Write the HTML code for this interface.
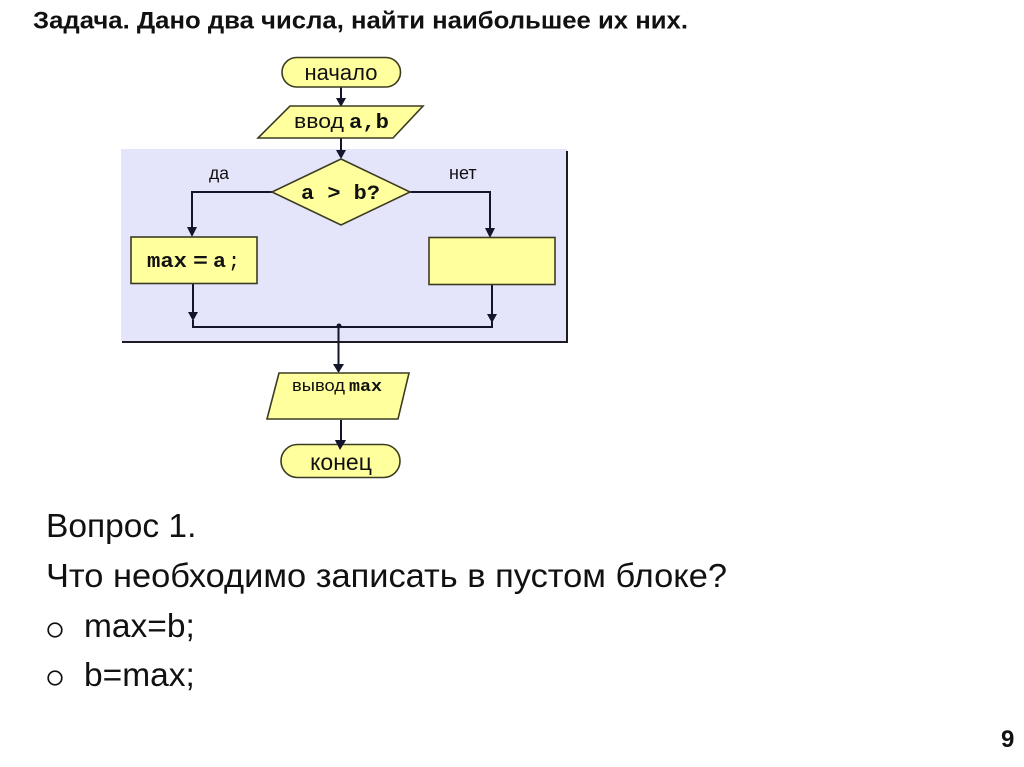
<!DOCTYPE html>
<html lang="ru"><head><meta charset="utf-8"><style>
html,body{margin:0;padding:0;background:#fff;width:1024px;height:767px;overflow:hidden}
svg{display:block}
text{font-family:"Liberation Sans",sans-serif;fill:#111}
.m{font-family:"Liberation Mono",monospace;font-weight:bold}
.s{fill:#ffff9e;stroke:#3c3c22;stroke-width:1.6}
.l{stroke:#14142a;stroke-width:2;fill:none}
.a{fill:#14142a}
</style></head><body>
<svg width="1024" height="767" viewBox="0 0 1024 767" xmlns="http://www.w3.org/2000/svg">
<rect x="121" y="149" width="446" height="192" fill="#e4e4fb"/>
<path d="M567 151V342H122" fill="none" stroke="#1c1c22" stroke-width="2"/>
<path class="l" d="M341 87V100M341 138V153M272 192H192V228M410 192H490V229M193 283V313M492 285V314M193 320V327H492V320M338.500 327V365M341 420V443"/>
<path class="a" d="M336 98H346L341 107ZM336 150H346L341 159ZM187 227H197L192 237ZM485 228H495L490 238ZM188 312H198L193 321ZM487 314H497L492 323ZM333 364H344L338.500 373ZM335 440H346L340 450Z"/>
<circle class="a" cx="339" cy="326" r="2.500"/>
<rect class="s" x="282" y="57.500" width="118.500" height="29.500" rx="14.700"/>
<polygon class="s" points="290,106 423,106 393,138 258,138"/>
<polygon class="s" points="341,159 410,192 341,225 272,192"/>
<rect class="s" x="131" y="237" width="126" height="46.500"/>
<rect class="s" x="429" y="237.500" width="126" height="47"/>
<polygon class="s" points="279,373 409,373 398,419 267,419"/>
<rect class="s" x="281" y="444.500" width="119" height="33" rx="16.500"/>
<path class="a" d="M335 440H346L340 450Z"/>
<text x="341" y="80" font-size="22" text-anchor="middle">начало</text>
<text x="294" y="128" font-size="20" textLength="50" lengthAdjust="spacingAndGlyphs">ввод</text>
<text class="m" x="349" y="128" font-size="20" textLength="40" lengthAdjust="spacingAndGlyphs">a,b</text>
<text x="209" y="179" font-size="17.500">да</text>
<text x="449" y="179" font-size="18">нет</text>
<text class="m" x="301" y="199" font-size="20" textLength="79" lengthAdjust="spacingAndGlyphs">a &gt; b?</text>
<text class="m" x="147" y="267" font-size="20" textLength="40" lengthAdjust="spacingAndGlyphs">max</text>
<text class="m" x="193" y="267" font-size="20" textLength="15" lengthAdjust="spacingAndGlyphs">=</text>
<text class="m" x="213" y="267" font-size="20" textLength="13" lengthAdjust="spacingAndGlyphs">a</text>
<text class="m" x="229" y="267" font-size="20" textLength="10" lengthAdjust="spacingAndGlyphs">;</text>
<text x="292" y="391" font-size="16.500" textLength="53" lengthAdjust="spacingAndGlyphs">вывод</text>
<text class="m" x="349" y="391" font-size="17" textLength="33" lengthAdjust="spacingAndGlyphs">max</text>
<text x="341" y="470" font-size="23" text-anchor="middle">конец</text>
<text x="33" y="28.500" font-size="24" font-weight="bold" textLength="655" lengthAdjust="spacingAndGlyphs">Задача. Дано два числа, найти наибольшее их них.</text>
<text x="46" y="537" font-size="33.500">Вопрос 1.</text>
<text x="46" y="587" font-size="33.500" textLength="681" lengthAdjust="spacingAndGlyphs">Что необходимо записать в пустом блоке?</text>
<circle cx="55" cy="630" r="6.800" fill="none" stroke="#111" stroke-width="1.700"/>
<text x="84" y="637" font-size="33.500">max=b;</text>
<circle cx="55" cy="678" r="6.800" fill="none" stroke="#111" stroke-width="1.700"/>
<text x="84" y="686" font-size="33.500">b=max;</text>
<text x="1001" y="747" font-size="24" font-weight="bold">9</text>
</svg>
</body></html>
